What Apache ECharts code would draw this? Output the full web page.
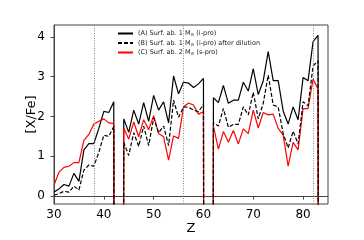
<!DOCTYPE html>
<html><head><meta charset="utf-8">
<script src="https://cdn.jsdelivr.net/npm/echarts@6/dist/echarts.min.js"></script>
<style>html,body{margin:0;padding:0;background:#fff}#c{width:364px;height:240px}</style>
</head><body><div id="c"></div>
<script>
// Atomic number Z (43 = Tc, 61 = Pm, 84 = Po: effectively -infinity)
const Z = [30,31,32,33,34,35,36,37,38,39,40,41,42,43,44,45,46,47,48,49,50,51,52,53,54,55,56,57,58,59,60,61,62,63,64,65,66,67,68,69,70,71,72,73,74,75,76,77,78,79,80,81,82,83,84];
const seriesA = [0.10,0.18,0.29,0.25,0.57,0.37,1.16,1.32,1.32,1.70,2.13,2.10,2.37,-100,
  1.94,1.60,2.16,1.81,2.35,1.88,2.53,2.16,2.37,1.84,3.02,2.57,2.86,2.84,2.73,2.82,2.96,-100,
  2.47,2.35,2.78,2.33,2.41,2.41,2.86,2.64,3.20,2.55,2.90,3.63,2.90,2.90,2.14,1.81,2.24,1.92,2.98,2.90,3.88,4.04,-100];
const seriesB = [0.02,0.06,0.12,0.10,0.25,0.15,0.65,0.78,0.75,1.10,1.53,1.50,1.75,-100,
  1.35,1.02,1.59,1.25,1.76,1.27,1.96,1.59,1.76,1.27,2.41,1.98,2.24,2.23,2.16,2.12,2.30,-100,
  1.84,1.76,2.20,1.73,1.80,1.80,2.24,2.04,2.61,1.94,2.33,3.04,2.29,2.24,1.57,1.21,1.63,1.31,2.37,2.27,3.27,3.40,-100];
const seriesC = [0.28,0.60,0.72,0.75,0.84,0.84,1.40,1.55,1.81,1.88,1.94,1.84,1.82,-100,
  1.71,1.43,1.86,1.49,1.92,1.67,2.02,1.57,1.49,0.90,1.51,1.45,2.24,2.34,2.29,2.06,2.12,-100,
  1.76,1.18,1.62,1.35,1.65,1.31,1.69,1.57,2.16,1.71,2.10,2.04,2.06,1.70,1.53,0.75,1.35,1.16,2.20,2.20,2.94,2.69,-100];
const markZ = [38, 56, 82];
const xTicks = [30, 40, 50, 60, 70, 80];
const yTicks = [0, 1, 2, 3, 4];
const names = ['(A) Surf. ab. 1 M{s|⊙} (i-pro)', '(B) Surf. ab. 1 M{s|⊙} (i-pro) after dilution', '(C) Surf. ab. 2 M{s|⊙} (s-pro)'];

const pairs = arr => Z.map((z, i) => [z, arr[i]]);
const chart = echarts.init(document.getElementById('c'), null, {renderer: 'canvas'});
const F = 'DejaVu Sans';
chart.setOption({
  animation: false,
  backgroundColor: '#fff',
  grid: {left: 54, top: 25, width: 274, height: 183, show: true, borderColor: '#444', borderWidth: 1},
  legend: {
    orient: 'vertical', left: 112, top: 25, itemWidth: 15, itemHeight: 8, itemGap: 2,
    data: names,
    itemStyle: {opacity: 0},
    textStyle: {fontFamily: F, fontSize: 6.5, color: '#222', rich: {s: {fontFamily: F, fontSize: 4.5, padding: [3, 0, 0, 0], color: '#222'}}}
  },
  xAxis: {
    type: 'value', min: 30, max: 85,
    name: 'Z', nameLocation: 'middle', nameGap: 18, nameMoveOverlap: false,
    nameTextStyle: {fontFamily: F, fontSize: 13, color: '#000'},
    axisLine: {show: true, lineStyle: {color: '#444', width: 1}},
    axisTick: {show: true, length: 3.5, customValues: xTicks, lineStyle: {color: '#444'}},
    axisLabel: {customValues: xTicks, fontFamily: F, fontSize: 12, color: '#000', margin: 5},
    splitLine: {show: false}
  },
  yAxis: {
    type: 'value', min: -0.2, max: 4.3,
    name: '[X/Fe]', nameLocation: 'middle', nameGap: 16, nameMoveOverlap: false,
    nameTextStyle: {fontFamily: F, fontSize: 13, color: '#000'},
    axisLine: {show: true, lineStyle: {color: '#444', width: 1}},
    axisTick: {show: true, length: 3.5, customValues: yTicks, lineStyle: {color: '#444'}},
    axisLabel: {customValues: yTicks, fontFamily: F, fontSize: 12, color: '#000', margin: 9},
    splitLine: {show: false}
  },
  series: [
    {name: names[0], type: 'line', data: pairs(seriesA), showSymbol: false, symbol: 'none', clip: true,
     lineStyle: {color: '#000', width: 1.2}, itemStyle: {color: '#000'},
     markLine: {silent: true, symbol: 'none', label: {show: false},
       lineStyle: {type: [1, 1.5], color: '#888', width: 1},
       data: markZ.map(v => ({xAxis: v}))}},
    {name: names[2], type: 'line', data: pairs(seriesC), showSymbol: false, symbol: 'none', clip: true,
     lineStyle: {color: '#ff0000', width: 1.2}, itemStyle: {color: '#ff0000'}},
    {name: names[1], type: 'line', data: pairs(seriesB), showSymbol: false, symbol: 'none', clip: true,
     lineStyle: {color: '#000', width: 1.2, type: [4, 2]}, itemStyle: {color: '#000'}}
  ]
});
</script></body></html>
